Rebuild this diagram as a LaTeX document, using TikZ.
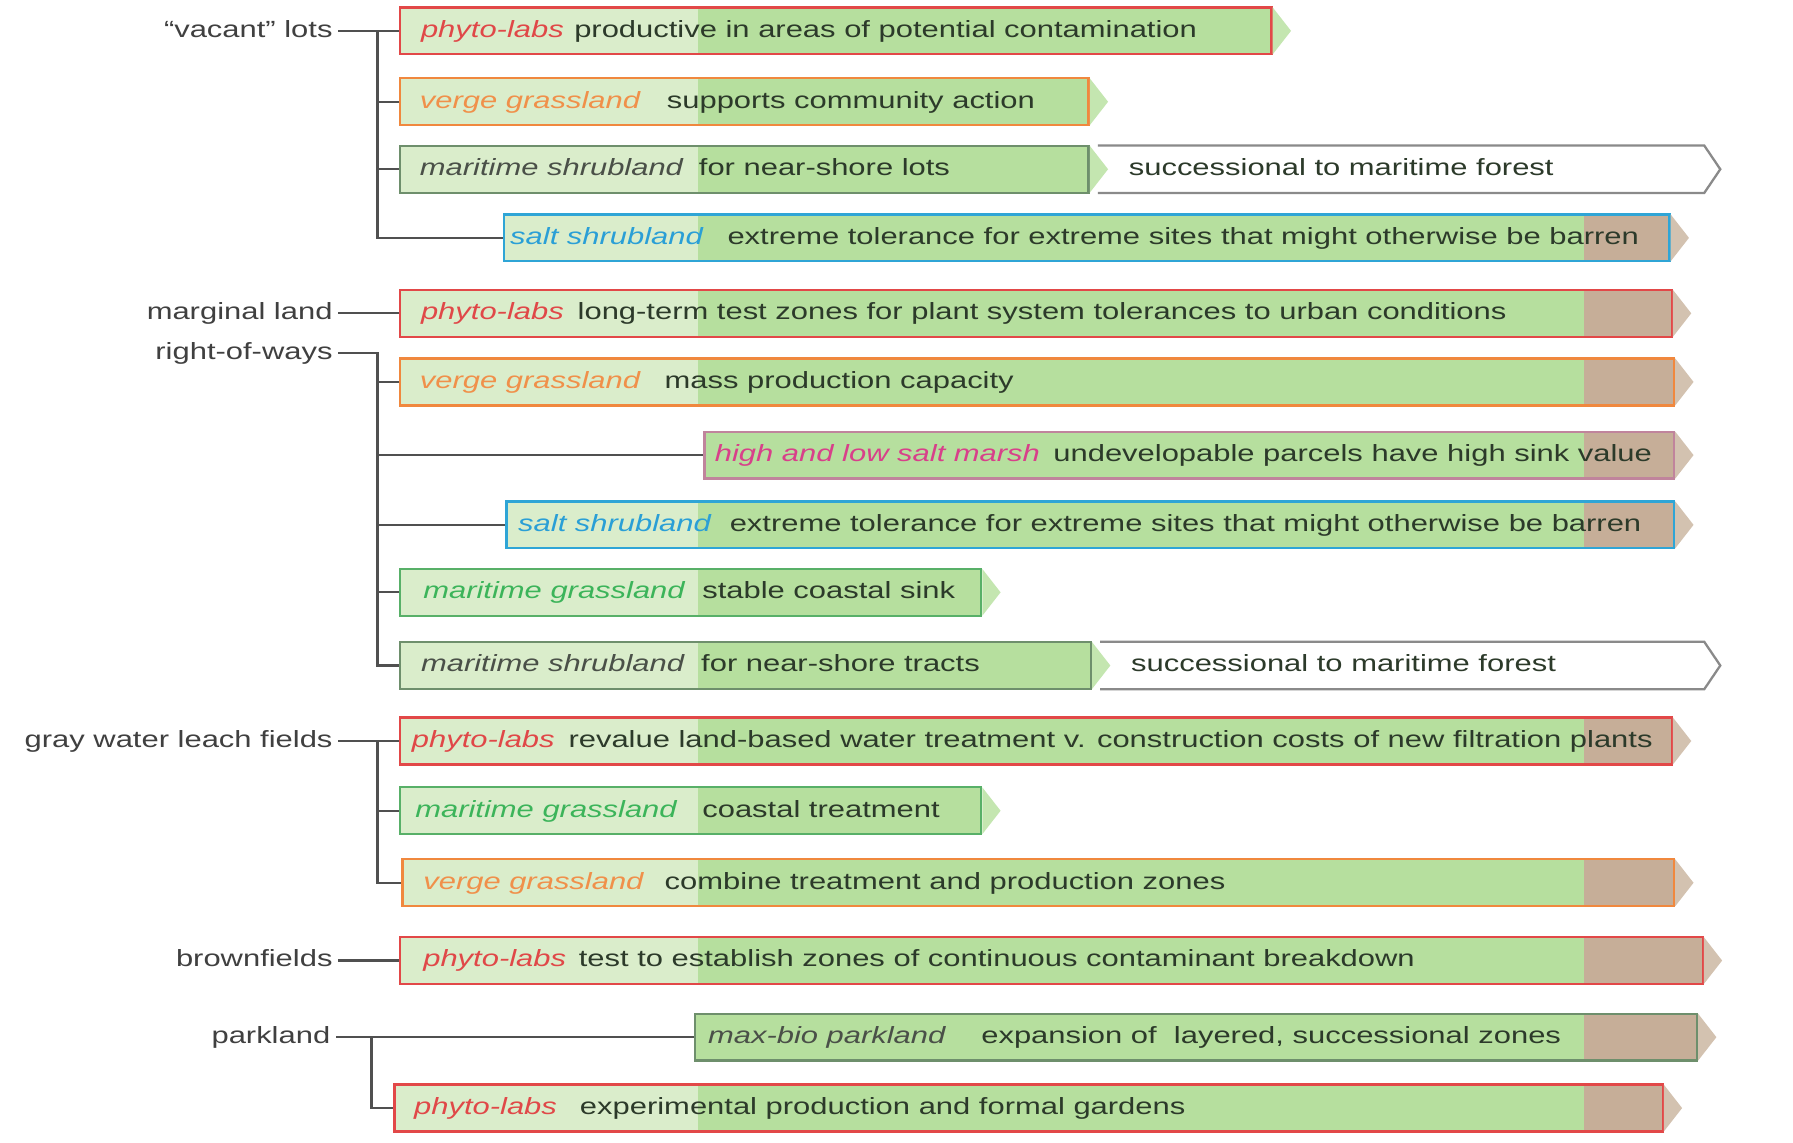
\documentclass[tikz,border=0pt]{standalone}
\usepackage{fontspec}
\setmainfont{Liberation Sans}[FakeStretch=1.32]
\usepackage{tikz}
\usetikzlibrary{positioning}
\newcommand{\zonefont}{\fontsize{20.5}{24}\selectfont}
\newcommand{\definitions}{%
  % border colours of the zone types
  \definecolor{colRed}{HTML}{E24848}
  \definecolor{colOrange}{HTML}{F0883E}
  \definecolor{colBlue}{HTML}{2FA5D6}
  \definecolor{colMarsh}{HTML}{C0849C}
  \definecolor{colGrass}{HTML}{58B068}
  \definecolor{colShrub}{HTML}{6E8F6C}
  \definecolor{colSucc}{HTML}{8A8A8A}
  % fills of the bars
  \definecolor{colPale}{HTML}{DAEDCB}
  \definecolor{colGreen}{HTML}{B6DF9E}
  \definecolor{colBrown}{HTML}{C6AE98}
  \definecolor{colTipG}{HTML}{C4E6B0}
  \definecolor{colTipB}{HTML}{D3C2B0}
  % text colours
  \definecolor{tagRed}{HTML}{E04848}
  \definecolor{tagOrange}{HTML}{F0904A}
  \definecolor{tagBlue}{HTML}{2A9FD6}
  \definecolor{tagPink}{HTML}{D8408A}
  \definecolor{tagGreen}{HTML}{3CB45A}
  \definecolor{tagGray}{HTML}{4A5048}
  \definecolor{colText}{HTML}{2C3A2A}
  \definecolor{colSite}{HTML}{404040}
  \definecolor{colLine}{HTML}{505050}

  % where the pale part of a bar ends
  \coordinate (paleEnd) at (610,0);
  % where the dry (brown) part of a bar begins
  \coordinate (dryStart) at (1385,0);
}
% arrow tip at the end of a bar
\newcommand{\tipof}[2]{\fill[#2] ([yshift=-1pt]#1.north east) -- ([xshift=16pt]#1.east) -- ([yshift=1pt]#1.south east) -- cycle;}
% open arrow for the successional stage
\newcommand{\succof}[1]{\draw[succline] (#1.north west) -- (#1.north east) -- ([xshift=14pt]#1.east) -- (#1.south east) -- (#1.south west);}
\tikzset{
  zone/.style={draw, line width=2pt, minimum height=41pt, inner sep=0pt, anchor=west, fill=colGreen},
  pale/.style={path picture={
    \fill[colPale] (path picture bounding box.south west) rectangle (paleEnd |- path picture bounding box.north);}},
  dry/.style={path picture={
    \fill[colBrown] (dryStart |- path picture bounding box.south) rectangle (path picture bounding box.north east);}},
  paledry/.style={path picture={
    \fill[colPale] (path picture bounding box.south west) rectangle (paleEnd |- path picture bounding box.north);
    \fill[colBrown] (dryStart |- path picture bounding box.south) rectangle (path picture bounding box.north east);}},
  succ/.style={fill=white, minimum height=41pt, inner sep=0pt, anchor=west},
  succline/.style={draw=colSucc, line width=2pt},
  tag/.style={inner sep=0pt, text height=15pt, text depth=4pt, font=\zonefont\itshape},
  desc/.style={inner sep=0pt, text height=15pt, text depth=4pt, text=colText},
  site/.style={inner xsep=5pt, inner ysep=0pt, text height=15pt, text depth=4pt, text=colSite},
  branch/.style={draw=colLine, line width=2pt},
}
\begin{document}
\begin{tikzpicture}[x=1pt, y=-1pt, font=\zonefont]

  % define colours and fixed points
  \definitions
  \fill[white] (0,0) rectangle (1568,999);
  \useasboundingbox (0,0) rectangle (1568,999);

  % "vacant" lots
  \node[succ, minimum width=530pt] (vacSucc) at (960,148) {};
  \succof{vacSucc}
  \node[desc, right=27pt of vacSucc.west] (vacSuccText) {successional to maritime forest};
  \node[zone, pale, draw=colRed, minimum width=762pt] (vacPhyto) at (349,27) {};
  \tipof{vacPhyto}{colTipG}
  \node[tag, text=tagRed, right=19pt of vacPhyto.west] (vacPhytoTag) {phyto-labs};
  \node[desc, right=153pt of vacPhyto.west] (vacPhytoText) {productive in areas of potential contamination};
  \node[zone, pale, draw=colOrange, minimum width=602pt] (vacVerge) at (349,89) {};
  \tipof{vacVerge}{colTipG}
  \node[tag, text=tagOrange, right=18pt of vacVerge.west] (vacVergeTag) {verge grassland};
  \node[desc, right=234pt of vacVerge.west] (vacVergeText) {supports community action};
  \node[zone, pale, draw=colShrub, minimum width=602pt] (vacShrub) at (349,148) {};
  \tipof{vacShrub}{colTipG}
  \node[tag, text=tagGray, right=18pt of vacShrub.west] (vacShrubTag) {maritime shrubland};
  \node[desc, right=262pt of vacShrub.west] (vacShrubText) {for near-shore lots};
  \node[zone, paledry, draw=colBlue, minimum width=1019pt] (vacSalt) at (440,208) {};
  \tipof{vacSalt}{colTipB}
  \node[tag, text=tagBlue, right=6pt of vacSalt.west] (vacSaltTag) {salt shrubland};
  \node[desc, right=196pt of vacSalt.west] (vacSaltText) {extreme tolerance for extreme sites that might otherwise be barren};

  \node[site, left=53pt of vacPhyto.west] (vacant) {“vacant” lots};
  \coordinate[left=19pt of vacPhyto.west] (vacFork);
  \draw[branch] (vacant) -- (vacPhyto);
  \draw[branch] (vacFork) |- (vacVerge.west);
  \draw[branch] (vacFork) |- (vacShrub.west);
  \draw[branch] (vacFork) |- (vacSalt.west);

  % marginal land
  \node[zone, paledry, draw=colRed, minimum width=1112pt] (marPhyto) at (349,274) {};
  \tipof{marPhyto}{colTipB}
  \node[tag, text=tagRed, right=19pt of marPhyto.west] (marPhytoTag) {phyto-labs};
  \node[desc, right=156pt of marPhyto.west] (marPhytoText) {long-term test zones for plant system tolerances to urban conditions};
  \node[site, left=53pt of marPhyto.west] (marginal) {marginal land};
  \draw[branch] (marginal) -- (marPhyto);

  % right-of-ways
  \node[zone, paledry, draw=colOrange, minimum width=1114pt] (rowVerge) at (349,334) {};
  \tipof{rowVerge}{colTipB}
  \node[tag, text=tagOrange, right=18pt of rowVerge.west] (rowVergeTag) {verge grassland};
  \node[desc, right=232pt of rowVerge.west] (rowVergeText) {mass production capacity};
  \node[zone, dry, draw=colMarsh, minimum width=848pt] (rowMarsh) at (615,398) {};
  \tipof{rowMarsh}{colTipB}
  \node[tag, text=tagPink, right=10pt of rowMarsh.west] (rowMarshTag) {high and low salt marsh};
  \node[desc, right=306pt of rowMarsh.west] (rowMarshText) {undevelopable parcels have high sink value};
  \node[zone, paledry, draw=colBlue, minimum width=1021pt] (rowSalt) at (442,459) {};
  \tipof{rowSalt}{colTipB}
  \node[tag, text=tagBlue, right=11pt of rowSalt.west] (rowSaltTag) {salt shrubland};
  \node[desc, right=196pt of rowSalt.west] (rowSaltText) {extreme tolerance for extreme sites that might otherwise be barren};
  \node[zone, pale, draw=colGrass, minimum width=508pt] (rowGrass) at (349,518) {};
  \tipof{rowGrass}{colTipG}
  \node[tag, text=tagGreen, right=21pt of rowGrass.west] (rowGrassTag) {maritime grassland};
  \node[desc, right=265pt of rowGrass.west] (rowGrassText) {stable coastal sink};
  \node[succ, minimum width=528pt] (rowSucc) at (962,582) {};
  \succof{rowSucc}
  \node[desc, right=27pt of rowSucc.west] (rowSuccText) {successional to maritime forest};
  \node[zone, pale, draw=colShrub, minimum width=604pt] (rowShrub) at (349,582) {};
  \tipof{rowShrub}{colTipG}
  \node[tag, text=tagGray, right=19pt of rowShrub.west] (rowShrubTag) {maritime shrubland};
  \node[desc, right=264pt of rowShrub.west] (rowShrubText) {for near-shore tracts};

  \coordinate (rowFork) at (330,309);
  \node[site, left=34pt of rowFork] (row) {right-of-ways};
  \draw[branch] (row) -- (rowFork) |- (rowShrub.west);
  \draw[branch] (rowFork) |- (rowVerge.west);
  \draw[branch] (rowFork) |- (rowMarsh.west);
  \draw[branch] (rowFork) |- (rowSalt.west);
  \draw[branch] (rowFork) |- (rowGrass.west);

  % gray water leach fields
  \node[zone, paledry, draw=colRed, minimum width=1112pt] (grayPhyto) at (349,648) {};
  \tipof{grayPhyto}{colTipB}
  \node[tag, text=tagRed, right=11pt of grayPhyto.west] (grayPhytoTag) {phyto-labs};
  \node[desc, right=148pt of grayPhyto.west] (grayPhytoText) {revalue land-based water treatment v. construction costs of new filtration plants};
  \node[zone, pale, draw=colGrass, minimum width=508pt] (grayGrass) at (349,709) {};
  \tipof{grayGrass}{colTipG}
  \node[tag, text=tagGreen, right=14pt of grayGrass.west] (grayGrassTag) {maritime grassland};
  \node[desc, right=265pt of grayGrass.west] (grayGrassText) {coastal treatment};
  \node[zone, paledry, draw=colOrange, minimum width=1112pt] (grayVerge) at (351,772) {};
  \tipof{grayVerge}{colTipB}
  \node[tag, text=tagOrange, right=19pt of grayVerge.west] (grayVergeTag) {verge grassland};
  \node[desc, right=230pt of grayVerge.west] (grayVergeText) {combine treatment and production zones};

  \node[site, left=53pt of grayPhyto.west] (gray) {gray water leach fields};
  \coordinate[left=19pt of grayPhyto.west] (grayFork);
  \draw[branch] (gray) -- (grayPhyto);
  \draw[branch] (grayFork) |- (grayGrass.west);
  \draw[branch] (grayFork) |- (grayVerge.west);

  % brownfields
  \node[zone, paledry, draw=colRed, minimum width=1139pt] (brownPhyto) at (349,840) {};
  \tipof{brownPhyto}{colTipB}
  \node[tag, text=tagRed, right=21pt of brownPhyto.west] (brownPhytoTag) {phyto-labs};
  \node[desc, right=157pt of brownPhyto.west] (brownPhytoText) {test to establish zones of continuous contaminant breakdown};
  \node[site, left=53pt of brownPhyto.west] (brown) {brownfields};
  \draw[branch] (brown) -- (brownPhyto);

  % parkland
  \node[zone, dry, draw=colShrub, minimum width=876pt] (parkMax) at (607,907) {};
  \tipof{parkMax}{colTipB}
  \node[tag, text=tagGray, right=12pt of parkMax.west] (parkMaxTag) {max-bio parkland};
  \node[desc, right=251pt of parkMax.west] (parkMaxText) {expansion of\ \ layered, successional zones};
  \node[zone, paledry, draw=colRed, minimum width=1109pt] (parkPhyto) at (344,969) {};
  \tipof{parkPhyto}{colTipB}
  \node[tag, text=tagRed, right=18pt of parkPhyto.west] (parkPhytoTag) {phyto-labs};
  \node[desc, right=163pt of parkPhyto.west] (parkPhytoText) {experimental production and formal gardens};

  \node[site, left=313pt of parkMax.west] (park) {parkland};
  \coordinate[left=282pt of parkMax.west] (parkFork);
  \draw[branch] (park) -- (parkMax);
  \draw[branch] (parkFork) |- (parkPhyto.west);

\end{tikzpicture}
\end{document}
